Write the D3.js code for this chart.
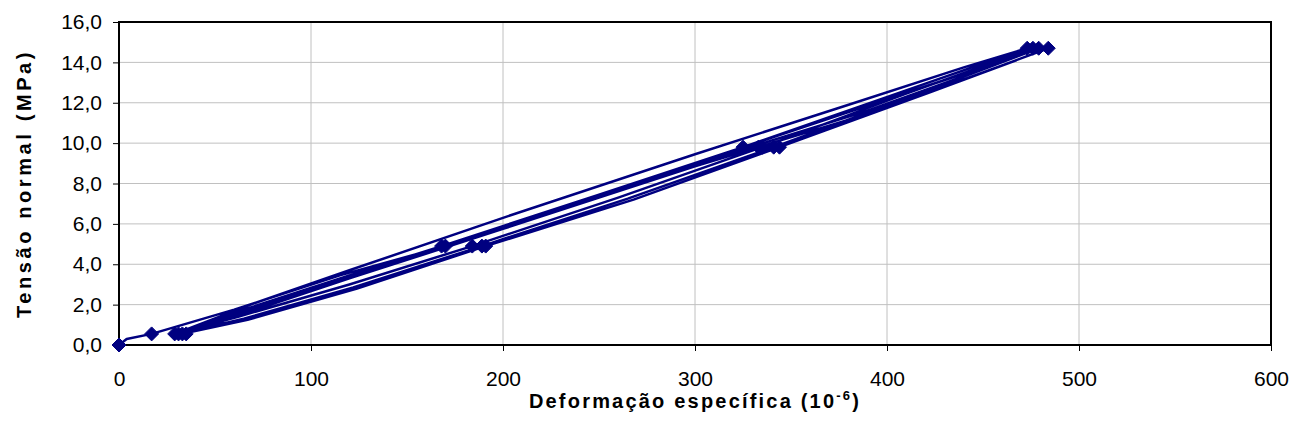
<!DOCTYPE html>
<html>
<head>
<meta charset="utf-8">
<script src="https://cdn.jsdelivr.net/npm/d3@7"></script>
<style>
  body { margin: 0; background: #fff; }
  text { font-family: Arial, "Liberation Sans", sans-serif; }
</style>
</head>
<body>
<div id="app"></div>
<script>
// strain readings (10^-6), one loading/unloading path
const strain = [
  0, 4, 17, 60, 115, 170, 250, 325, 420, 473,
  440, 380, 300, 200, 120, 70, 29,
  62, 120, 184, 260, 335, 410, 476,
  445, 385, 325, 250, 168, 120, 65, 31,
  65, 122, 189, 265, 341, 418, 479,
  447, 388, 300, 200, 120, 66, 33,
  67, 124, 191, 268, 344, 422, 484,
  450, 390, 300, 200, 120, 68, 35
]
// stress readings (MPa)
const stress = [
  0, 0.3, 0.55, 1.75, 3.45, 4.9, 7.45, 9.8, 12.95, 14.7,
  13.75, 11.9, 9.45, 6.3, 3.7, 2.05, 0.55,
  1.4, 3.0, 4.9, 7.3, 9.8, 12.45, 14.7,
  13.6, 11.7, 9.8, 7.45, 4.9, 3.45, 1.75, 0.55,
  1.3, 2.85, 4.9, 7.25, 9.8, 12.5, 14.7,
  13.55, 11.55, 8.95, 5.85, 3.35, 1.7, 0.55,
  1.25, 2.8, 4.9, 7.2, 9.8, 12.5, 14.7,
  13.5, 11.45, 8.85, 5.75, 3.3, 1.65, 0.55
]
// load stage readings (marked points)
const stageStrain = [0, 17, 29, 31, 33, 35, 168, 170, 184, 189, 191, 325, 333, 335, 341, 344, 473, 476, 479, 484]
const stageStress = [0, 0.55, 0.55, 0.55, 0.55, 0.55, 4.9, 4.9, 4.9, 4.9, 4.9, 9.8, 9.8, 9.8, 9.8, 9.8, 14.7, 14.7, 14.7, 14.7]

const xTicks = [0, 100, 200, 300, 400, 500, 600]
const yTicks = [0, 2, 4, 6, 8, 10, 12, 14, 16]

const W = 1295, H = 439
const margin = { left: 119, right: 24, top: 22, bottom: 94 }
const color = '#000080'

const svg = d3.select('#app').append('svg')
  .attr('width', W).attr('height', H)

const x = d3.scaleLinear().domain([0, 600]).range([margin.left, W - margin.right])
const y = d3.scaleLinear().domain([0, 16]).range([H - margin.bottom, margin.top])

// grid
svg.append('g').selectAll('line').data(xTicks.slice(1, -1)).join('line')
  .attr('x1', d => x(d)).attr('x2', d => x(d))
  .attr('y1', y(16)).attr('y2', y(0))
  .attr('stroke', '#c0c0c0').attr('stroke-width', 1)
svg.append('g').selectAll('line').data(yTicks.slice(1, -1)).join('line')
  .attr('x1', x(0)).attr('x2', x(600))
  .attr('y1', d => y(d)).attr('y2', d => y(d))
  .attr('stroke', '#c0c0c0').attr('stroke-width', 1)

// axes
const fmt = d => d3.format('.1f')(d).replace('.', ',')
const xAxis = svg.append('g')
  .attr('transform', `translate(0,${y(0)})`)
  .call(d3.axisBottom(x).tickValues(xTicks).tickSize(6).tickPadding(20))
const yAxis = svg.append('g')
  .attr('transform', `translate(${x(0)},0)`)
  .call(d3.axisLeft(y).tickValues(yTicks).tickSize(6).tickPadding(11).tickFormat(fmt))
for (const a of [xAxis, yAxis]) {
  a.select('.domain').remove()
  a.selectAll('text').attr('font-size', 21).attr('fill', '#000')
    .style('font-family', 'Arial, "Liberation Sans", sans-serif')
  a.selectAll('line').attr('stroke', '#000')
}

// plot frame
svg.append('rect')
  .attr('x', x(0)).attr('y', y(16))
  .attr('width', x(600) - x(0)).attr('height', y(0) - y(16))
  .attr('fill', 'none').attr('stroke', '#000').attr('stroke-width', 2)

// data line
const pts = strain.map((s, i) => [s, stress[i]])
svg.append('path')
  .datum(pts)
  .attr('d', d3.line().x(d => x(d[0])).y(d => y(d[1])))
  .attr('fill', 'none').attr('stroke', color).attr('stroke-width', 2.5)
  .attr('stroke-linejoin', 'round')

// stage markers (diamonds)
const r = 7
svg.append('g').selectAll('path').data(stageStrain.map((s, i) => [s, stageStress[i]])).join('path')
  .attr('d', d => `M${x(d[0])},${y(d[1]) - r}L${x(d[0]) + r},${y(d[1])}L${x(d[0])},${y(d[1]) + r}L${x(d[0]) - r},${y(d[1])}Z`)
  .attr('fill', color).attr('stroke', color).attr('stroke-width', 1)

// axis titles
svg.append('text')
  .attr('x', (x(0) + x(600)) / 2).attr('y', 408)
  .attr('text-anchor', 'middle')
  .attr('font-size', 20).attr('font-weight', 'bold')
  .attr('letter-spacing', 2.2)
  .html('Deformação específica (10<tspan dy="-8" font-size="13">-6</tspan><tspan dy="8">)</tspan>')

svg.append('text')
  .attr('transform', `translate(31,${(y(0) + y(16)) / 2}) rotate(-90)`)
  .attr('text-anchor', 'middle')
  .attr('font-size', 20).attr('font-weight', 'bold')
  .attr('letter-spacing', 3.6)
  .text('Tensão normal (MPa)')
</script>
</body>
</html>
